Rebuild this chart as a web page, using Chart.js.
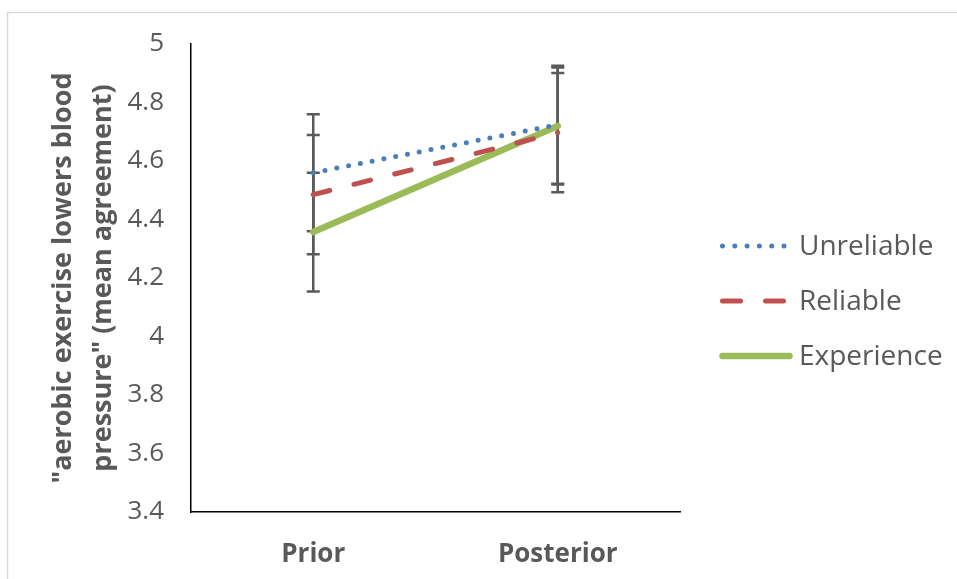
<!DOCTYPE html>
<html>
<head>
<meta charset="utf-8">
<script src="https://cdn.jsdelivr.net/npm/chart.js@4.4.1/dist/chart.umd.min.js"></script>
<style>
  html, body { margin: 0; padding: 0; background: #fff; }
  #wrap { position: relative; width: 957px; height: 579px; }
</style>
</head>
<body>
<div id="wrap"><canvas id="chart" width="957" height="579"></canvas></div>
<script>
// categories and series
const categories = ['Prior', 'Posterior'];
const seriesNames = ['Unreliable', 'Reliable', 'Experience'];
const unreliable = [4.56, 4.724];
const reliable = [4.485, 4.697];
const experience = [4.357, 4.72];
const unreliableErr = [0.2, 0.202];
const reliableErr = [0.204, 0.204];
const experienceErr = [0.203, 0.2];
const yTicks = [3.4, 3.6, 3.8, 4, 4.2, 4.4, 4.6, 4.8, 5];
const yTitle = ['"aerobic exercise lowers blood', 'pressure" (mean agreement)'];

const textGray = '#595959';
const fontFamily = '"Open Sans", "DejaVu Sans", sans-serif';

// frame of the chart object (light gray line on top and left)
const framePlugin = {
    id: 'frame',
    beforeDraw(chart) {
        const ctx = chart.ctx;
        ctx.save();
        ctx.strokeStyle = '#d9d9d9';
        ctx.lineWidth = 1.5;
        ctx.beginPath();
        ctx.moveTo(7.5, chart.height);
        ctx.lineTo(7.5, 12.5);
        ctx.lineTo(chart.width, 12.5);
        ctx.stroke();
        ctx.restore();
    }
};

// vertical error bars with caps, drawn under the lines
const errorBarPlugin = {
    id: 'errorBars',
    beforeDatasetsDraw(chart) {
        const ctx = chart.ctx;
        const y = chart.scales.y;
        ctx.save();
        ctx.strokeStyle = '#5a5a5a';
        ctx.lineWidth = 2.5;
        chart.data.datasets.forEach((ds, i) => {
            const meta = chart.getDatasetMeta(i);
            meta.data.forEach((pt, j) => {
                const v = ds.data[j];
                const e = ds.errors[j];
                const yHi = y.getPixelForValue(v + e);
                const yLo = y.getPixelForValue(v - e);
                ctx.beginPath();
                ctx.moveTo(pt.x, yHi);
                ctx.lineTo(pt.x, yLo);
                ctx.moveTo(pt.x - 6.5, yHi);
                ctx.lineTo(pt.x + 6.5, yHi);
                ctx.moveTo(pt.x - 6.5, yLo);
                ctx.lineTo(pt.x + 6.5, yLo);
                ctx.stroke();
            });
        });
        ctx.restore();
    }
};

// legend on the right, line samples like the original
const sideLegendPlugin = {
    id: 'sideLegend',
    afterDraw(chart) {
        const ctx = chart.ctx;
        const area = chart.chartArea;
        const x0 = area.right + 40;
        const sampleLen = 72;
        const rowGap = 55;
        const yMid = (area.top + area.bottom) / 2;
        const yStart = yMid - rowGap + 23;
        ctx.save();
        ctx.font = '28px ' + fontFamily;
        ctx.textBaseline = 'middle';
        chart.data.datasets.forEach((ds, i) => {
            const yy = yStart + i * rowGap;
            ctx.strokeStyle = ds.borderColor;
            ctx.lineWidth = ds.borderWidth;
            ctx.lineCap = 'round';
            ctx.setLineDash(ds.legendDash || []);
            ctx.beginPath();
            ctx.moveTo(x0 + 2.5, yy);
            ctx.lineTo(x0 + sampleLen - 2.5, yy);
            ctx.stroke();
            ctx.setLineDash([]);
            ctx.fillStyle = textGray;
            ctx.fillText(ds.label, x0 + sampleLen + 7, yy + 1);
        });
        ctx.restore();
    }
};

const chart = new Chart(document.getElementById('chart'), {
    type: 'line',
    data: {
        labels: categories,
        datasets: [{
            label: seriesNames[0],
            data: unreliable,
            errors: unreliableErr,
            borderColor: '#4a7ebb',
            borderWidth: 5,
            borderDash: [0, 12],
            legendDash: [0, 12.3],
            borderCapStyle: 'round'
        }, {
            label: seriesNames[1],
            data: reliable,
            errors: reliableErr,
            borderColor: '#c0504d',
            borderWidth: 5,
            borderDash: [17, 25],
            legendDash: [18, 25],
            borderCapStyle: 'round'
        }, {
            label: seriesNames[2],
            data: experience,
            errors: experienceErr,
            borderColor: '#9bbb59',
            borderWidth: 6.5,
            borderCapStyle: 'round'
        }]
    },
    options: {
        responsive: false,
        animation: false,
        layout: {
            padding: { left: 0, top: 44, right: 277, bottom: 0 }
        },
        elements: {
            point: { radius: 0, hoverRadius: 0 },
            line: { tension: 0 }
        },
        plugins: {
            legend: { display: false },
            tooltip: { enabled: false }
        },
        scales: {
            x: {
                offset: true,
                grid: { display: false, drawTicks: false },
                border: { display: true, color: '#000', width: 1.5 },
                ticks: {
                    color: textGray,
                    padding: 27,
                    font: { family: fontFamily, size: 26, weight: 'bold' }
                },
                afterFit: (scale) => { scale.height = 579 - 512; }
            },
            y: {
                min: 3.4,
                max: 5,
                afterBuildTicks: (scale) => {
                    scale.ticks = yTicks.map(v => ({ value: v }));
                },
                grid: { display: false, drawTicks: false },
                border: { display: true, color: '#000', width: 1.5 },
                ticks: {
                    color: textGray,
                    padding: 27,
                    font: { family: fontFamily, size: 26 },
                    callback: (v) => String(Number(v.toFixed(1)))
                },
                title: {
                    display: true,
                    text: yTitle,
                    color: textGray,
                    padding: { top: 43, bottom: 0 },
                    font: { family: fontFamily, size: 27, weight: 'bold', lineHeight: 1.48 }
                },
                afterFit: (scale) => { scale.width = 191; }
            }
        }
    },
    plugins: [framePlugin, errorBarPlugin, sideLegendPlugin]
});
</script>
</body>
</html>
